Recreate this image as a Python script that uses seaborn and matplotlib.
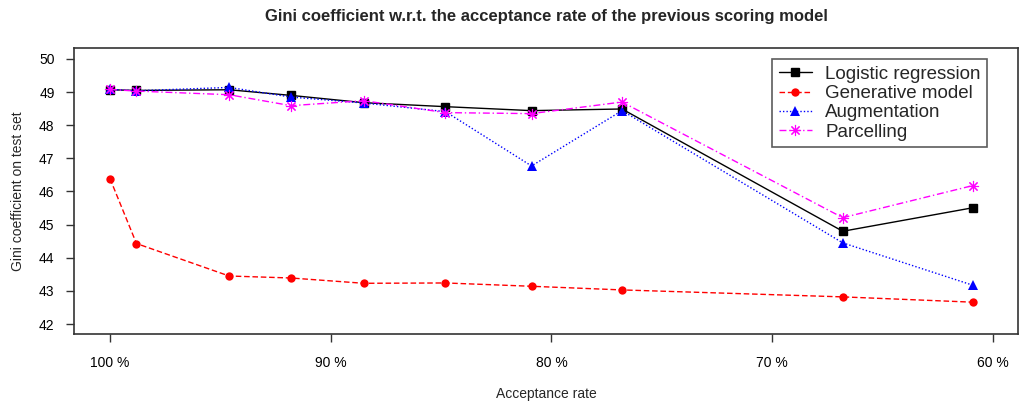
import pandas as pd
import seaborn as sns
import matplotlib.pyplot as plt
from matplotlib.ticker import FixedLocator

# acceptance rate of the previous scoring model (%)
acceptance = [100, 98.8, 94.6, 91.8, 88.5, 84.8, 80.9, 76.8, 66.8, 60.9]

logistic = [49.07, 49.05, 49.07, 48.90, 48.68, 48.56, 48.44, 48.49, 44.80, 45.51]
generative = [46.39, 44.43, 43.45, 43.39, 43.23, 43.24, 43.14, 43.03, 42.82, 42.66]
augmentation = [49.08, 49.04, 49.14, 48.85, 48.67, 48.41, 46.77, 48.44, 44.45, 43.17]
parcelling = [49.08, 49.03, 48.92, 48.59, 48.74, 48.38, 48.35, 48.70, 45.21, 46.18]

x_ticks = [100, 90, 80, 70, 60]
x_labels = ['100 %', '90 %', '80 %', '70 %', '60 %']
y_ticks = [42, 43, 44, 45, 46, 47, 48, 49, 50]

series = {
    'Logistic regression': logistic,
    'Generative model': generative,
    'Augmentation': augmentation,
    'Parcelling': parcelling,
}
df = pd.concat([pd.DataFrame({'rate': acceptance, 'gini': v, 'model': k})
                for k, v in series.items()], ignore_index=True)

sns.set_style('white')
plt.rcParams['font.family'] = ['Liberation Sans', 'DejaVu Sans']

styles = {
    'Logistic regression': dict(color='black', ls='-', marker='s', ms=6, mew=1),
    'Generative model': dict(color='red', ls=(0, (4, 2)), marker='o', ms=6, mew=0),
    'Augmentation': dict(color='blue', ls=(0, (1, 1.5)), marker='^', ms=7, mew=0),
    'Parcelling': dict(color='magenta', ls=(0, (5, 2, 1, 2)), marker=(8, 2, 0), ms=8, mew=0.8),
}

fig = plt.figure(figsize=(10.2, 4.07), dpi=100)
ax = fig.add_axes([74 / 1020, 1 - 334 / 407, 944 / 1020, 286 / 407])

for name in series:
    st = styles[name]
    sub = df[df['model'] == name]
    sns.lineplot(data=sub, x='rate', y='gini', ax=ax, color=st['color'],
                 linestyle=st['ls'], marker=st['marker'], markersize=st['ms'],
                 markeredgewidth=st['mew'], markeredgecolor=st['color'],
                 lw=1, label=name, sort=False, estimator=None)

ax.set_xlim(101.63, 58.86)
ax.set_ylim(41.7, 50.33)
ax.xaxis.set_major_locator(FixedLocator(x_ticks))
ax.set_xticklabels(x_labels)
ax.set_yticks(y_ticks)
ax.tick_params(axis='both', direction='out', length=6, width=1, colors='#333333',
               labelsize=10, labelcolor='black', bottom=True, left=True)
ax.tick_params(axis='x', pad=10)
ax.tick_params(axis='y', pad=8)
for s in ax.spines.values():
    s.set_color('#333333')
    s.set_linewidth(1.2)

ax.set_xlabel('Acceptance rate', fontsize=10, labelpad=12)
ax.set_ylabel('Gini coefficient on test set', fontsize=10, labelpad=10)
fig.text(546 / 1020, 1 - 17 / 407,
         'Gini coefficient w.r.t. the acceptance rate of the previous scoring model',
         ha='center', va='center', fontsize=12, fontweight='bold')

leg = ax.legend(loc='upper left', bbox_to_anchor=(772 / 1020, 1 - 59 / 407),
                bbox_transform=fig.transFigure, fontsize=13.5, frameon=True,
                fancybox=False, edgecolor='#333333', borderaxespad=0,
                labelspacing=0.12, handlelength=1.8, handletextpad=0.7,
                borderpad=0.35)
leg.get_frame().set_linewidth(1.2)

plt.savefig('out.png', dpi=100)
